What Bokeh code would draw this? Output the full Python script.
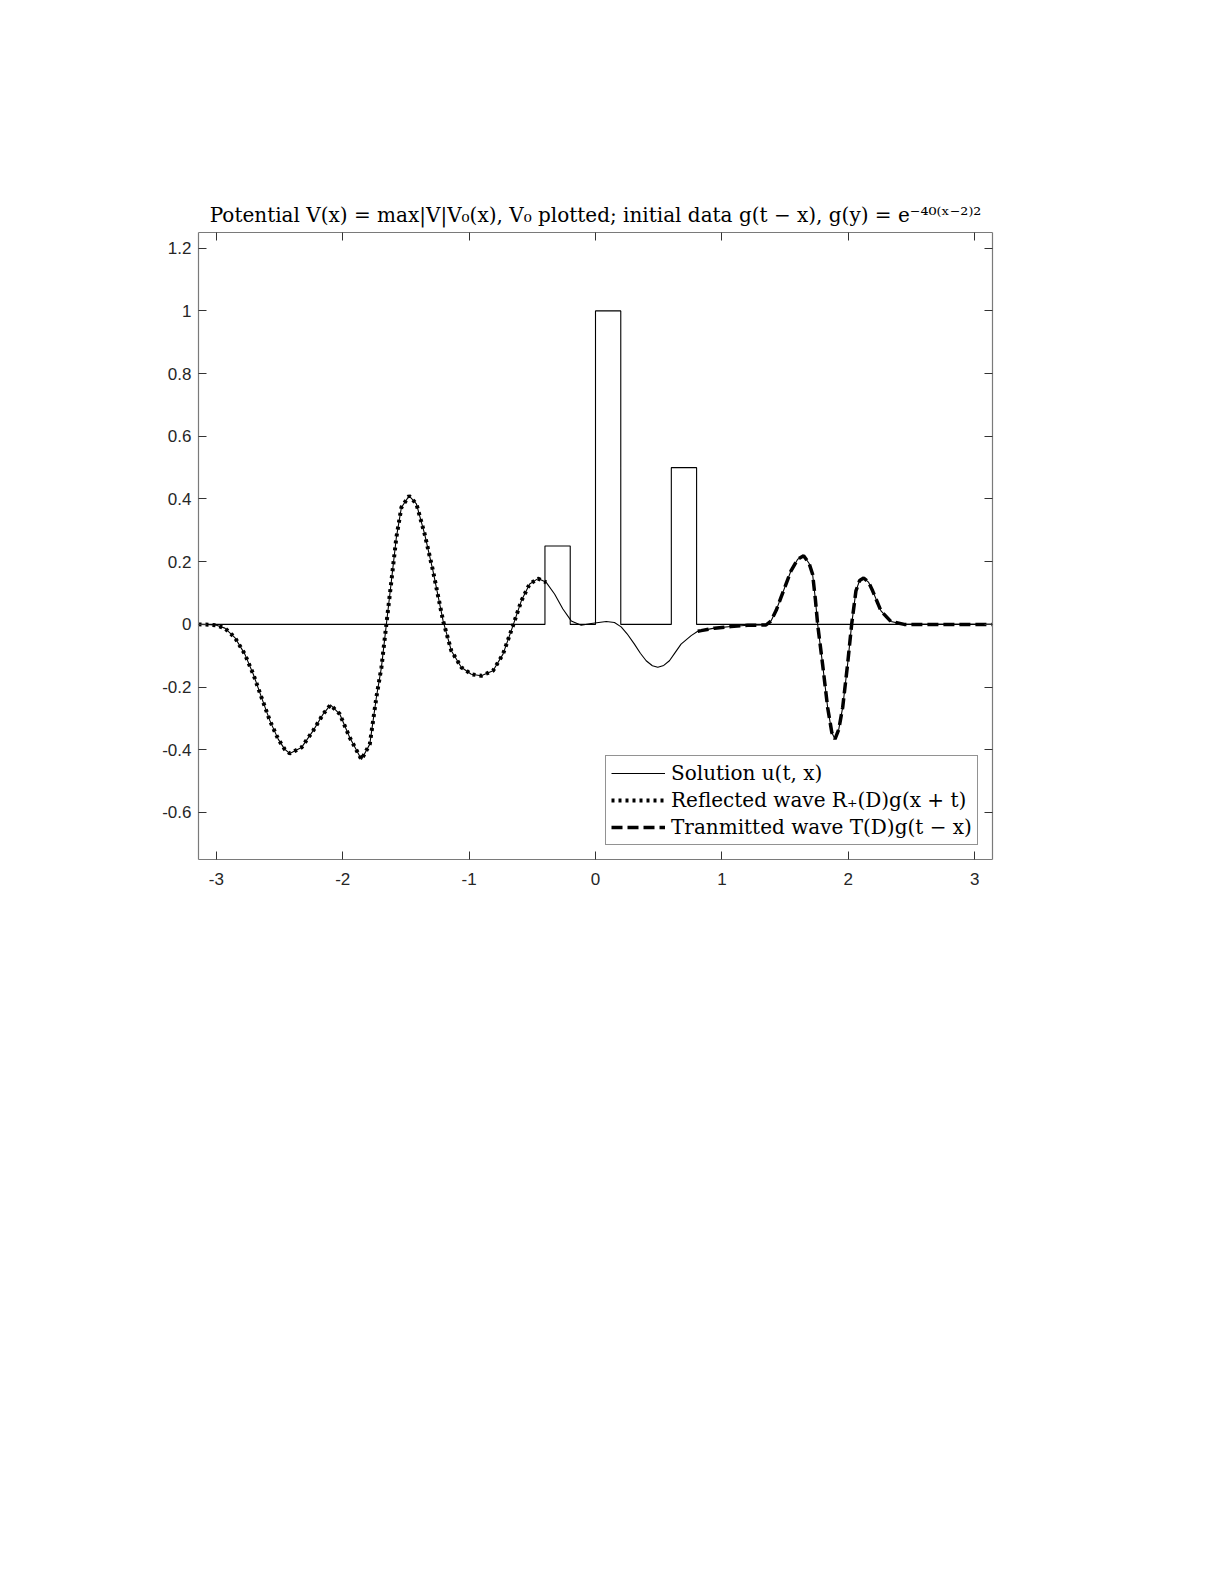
import math
from bokeh.plotting import figure
from bokeh.models import Range1d, LinearAxis, FixedTicker, Legend, LegendItem
from bokeh.embed import file_html
from bokeh.resources import INLINE

# ---------------- data ----------------
sol_x = [-3.1416, -3.05, -3.0, -2.933, -2.854, -2.775, -2.708, -2.643, -2.577, -2.511,
         -2.46, -2.419, -2.327, -2.234, -2.155, -2.097, -2.024, -1.945, -1.852, -1.786,
         -1.733, -1.694, -1.655, -1.615, -1.576, -1.536, -1.475, -1.417, -1.352, -1.286,
         -1.206, -1.141, -1.062, -0.983, -0.904, -0.811, -0.732, -0.653, -0.587, -0.521,
         -0.455, -0.390, -0.324, -0.258, -0.192, -0.113, -0.034, 0.085, 0.150, 0.203,
         0.250, 0.308, 0.355, 0.401, 0.450, 0.493, 0.540, 0.585, 0.630, 0.677, 0.757, 0.809, 0.836, 0.941,
         1.072, 1.205, 1.349, 1.389, 1.430, 1.468, 1.547, 1.600, 1.647, 1.690,
         1.718, 1.740, 1.758, 1.797, 1.837, 1.870, 1.895, 1.925, 1.956, 1.995,
         2.027, 2.061, 2.090, 2.122, 2.160, 2.193, 2.259, 2.338, 2.443, 3.1416]
sol_y = [0.0, -0.001, -0.003, -0.012, -0.042, -0.095, -0.159, -0.233, -0.307, -0.366,
         -0.398, -0.412, -0.393, -0.339, -0.286, -0.257, -0.286, -0.361, -0.431, -0.382,
         -0.230, -0.137, 0.0, 0.139, 0.277, 0.373, 0.410, 0.384, 0.288, 0.171,
         0.011, -0.084, -0.137, -0.159, -0.164, -0.148, -0.095, -0.004, 0.075, 0.129,
         0.146, 0.134, 0.097, 0.049, 0.011, -0.003, 0.003, 0.009, 0.006, -0.008,
         -0.030, -0.063, -0.092, -0.116, -0.132, -0.137, -0.131, -0.116, -0.090, -0.063, -0.036, -0.022, -0.020, -0.012,
         -0.007, -0.003, -0.002, 0.011, 0.045, 0.086, 0.171, 0.208, 0.219, 0.195,
         0.160, 0.080, 0.0, -0.127, -0.265, -0.345, -0.366, -0.335, -0.265, -0.127,
         0.0, 0.107, 0.140, 0.148, 0.135, 0.107, 0.043, 0.009, 0.0, 0.0]

reflected_end = -0.39   # dotted curve drawn left of this x
transmitted_start = 0.809  # dashed curve drawn right of this x

# potential barriers: (left edge, right edge, height)
barrier_left = [-0.4, 0.0, 0.6]
barrier_right = [-0.2, 0.2, 0.8]
barrier_height = [0.25, 1.0, 0.5]

x_ticks = [-3, -2, -1, 0, 1, 2, 3]
x_tick_labels = ["-3", "-2", "-1", "0", "1", "2", "3"]
y_ticks = [-0.6, -0.4, -0.2, 0, 0.2, 0.4, 0.6, 0.8, 1.0, 1.2]
y_tick_labels = ["-0.6", "-0.4", "-0.2", "0", "0.2", "0.4", "0.6", "0.8", "1", "1.2"]

title_text = ("Potential V(x) = max|V|V\u2080(x), V\u2080 plotted; initial data g(t \u2212 x), "
              "g(y) = e\u207b\u2074\u2070\u207d\u02e3\u207b\u00b2\u207e\u00b2")
legend_labels = ["Solution u(t, x)", "Reflected wave R\u208a(D)g(x + t)",
                 "Tranmitted wave T(D)g(t \u2212 x)"]

# ---------------- build derived series ----------------
pot_x = [-math.pi]
pot_y = [0.0]
for l, r, h in zip(barrier_left, barrier_right, barrier_height):
    pot_x += [l, l, r, r]
    pot_y += [0.0, h, h, 0.0]
pot_x.append(math.pi)
pot_y.append(0.0)

ref_x = [x for x in sol_x if x <= reflected_end]
ref_y = [y for x, y in zip(sol_x, sol_y) if x <= reflected_end]
tr_x = [x for x in sol_x if x >= transmitted_start]
tr_y = [y for x, y in zip(sol_x, sol_y) if x >= transmitted_start]

# ---------------- figure ----------------
p = figure(width=1052, height=929, output_backend="svg", toolbar_location=None,
           x_range=Range1d(-math.pi, math.pi), y_range=Range1d(-0.75, 1.25),
           frame_width=794, frame_height=627,
           min_border_left=198, min_border_right=60, min_border_top=232,
           min_border_bottom=70)
p.background_fill_color = "white"
p.border_fill_color = "white"
p.outline_line_color = None
p.xgrid.visible = False
p.ygrid.visible = False

p.title.text = title_text
p.title.text_font = "DejaVu Serif"
p.title.text_font_size = "20px"
p.title.text_font_style = "normal"
p.title.text_color = "#000000"
p.title.align = "center"
p.title.standoff = 12

AX = "#7a7a7a"
TK = "#333333"

def style_axis(ax, ticks, labels, show_labels):
    ax.ticker = FixedTicker(ticks=ticks)
    ax.major_label_overrides = {t: s for t, s in zip(ticks, labels)}
    ax.axis_line_color = AX
    ax.axis_line_width = 1.2
    ax.major_tick_line_color = TK
    ax.major_tick_in = 8
    ax.major_tick_out = 0
    ax.minor_tick_line_color = None
    ax.major_label_text_font = "Liberation Sans"
    ax.major_label_text_font_size = "17px"
    ax.major_label_text_color = "#262626"
    if not show_labels:
        ax.major_label_text_color = None
        ax.major_label_text_font_size = "1px"

xb = p.xaxis[0]
yl = p.yaxis[0]
style_axis(xb, x_ticks, x_tick_labels, True)
style_axis(yl, y_ticks, y_tick_labels, True)
xb.major_label_standoff = 13
yl.major_label_standoff = 7

xt = LinearAxis()
style_axis(xt, x_ticks, x_tick_labels, False)
xt.major_label_standoff = 0
p.add_layout(xt, "above")
yr = LinearAxis()
style_axis(yr, y_ticks, y_tick_labels, False)
yr.major_label_standoff = 0
p.add_layout(yr, "right")

# potential
p.line(pot_x, pot_y, line_color="black", line_width=1.1)
# solution
r_sol = p.line(sol_x, sol_y, line_color="black", line_width=1.1)
# reflected
r_ref = p.line(ref_x, ref_y, line_color="black", line_width=4, line_dash="3 4")
# transmitted
r_tr = p.line(tr_x, tr_y, line_color="black", line_width=3.5, line_dash="11 5")

legend = Legend(items=[LegendItem(label=legend_labels[0], renderers=[r_sol]),
                       LegendItem(label=legend_labels[1], renderers=[r_ref]),
                       LegendItem(label=legend_labels[2], renderers=[r_tr])],
                location=(407, 14))
legend.label_text_font = "DejaVu Serif"
legend.label_text_font_size = "20px"
legend.label_text_color = "#000000"
legend.glyph_width = 54
legend.glyph_height = 20
legend.label_height = 20
legend.label_standoff = 6
legend.spacing = 3
legend.padding = 5
legend.margin = 0
legend.border_line_color = "#262626"
legend.border_line_width = 1
legend.background_fill_color = "white"
legend.background_fill_alpha = 1
p.add_layout(legend, "center")

open("out.html", "w").write(file_html(p, INLINE))
